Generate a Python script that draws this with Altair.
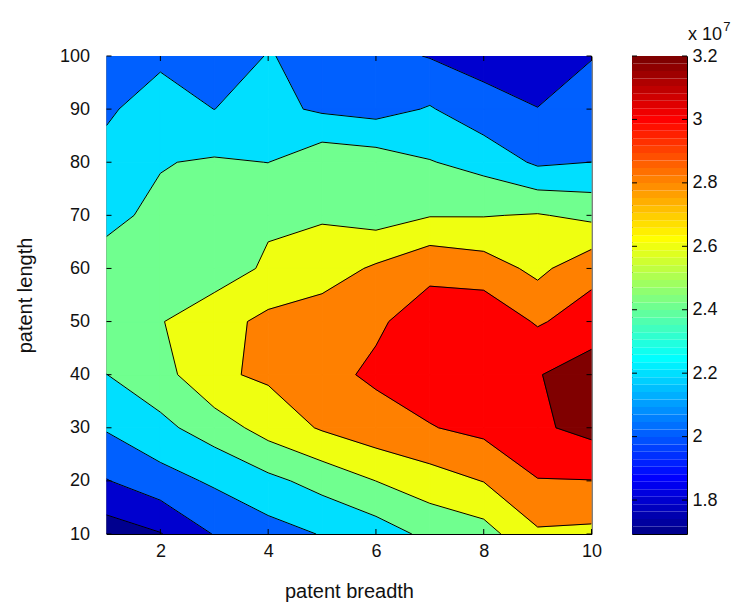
import numpy as np
import pandas as pd
import altair as alt

# ---------------- data (values in units of 1e7) ----------------
breadth = [1, 2, 3, 4, 5, 6, 7, 8, 9, 10]
length = [10, 20, 30, 40, 50, 60, 70, 80, 90, 100]
# one list per breadth value, ordered by patent length 10..100
z_b1 = [1.693, 1.991, 2.218, 2.398, 2.50, 2.46, 2.36, 2.24, 2.182, 2.13]
z_b2 = [1.79, 2.12, 2.35, 2.52, 2.59, 2.57, 2.438, 2.39, 2.26, 2.174]
z_b3 = [2.01, 2.23, 2.496, 2.77, 2.72, 2.50, 2.48, 2.422, 2.199, 2.14]
z_b4 = [2.12, 2.35, 2.68, 2.83, 2.85, 2.63, 2.57, 2.398, 2.256, 2.205]
z_b5 = [2.21, 2.47, 2.82, 2.95, 2.91, 2.70, 2.58, 2.54, 2.17, 2.17]
z_b6 = [2.30, 2.601, 2.923, 3.03, 2.975, 2.829, 2.511, 2.506, 2.128, 2.06]
z_b7 = [2.45, 2.71, 2.99, 3.10, 3.08, 2.96, 2.59, 2.41, 2.216, 1.99]
z_b8 = [2.52, 2.806, 3.052, 3.17, 3.145, 2.899, 2.591, 2.333, 2.072, 1.931]
z_b9 = [2.771, 2.991, 3.169, 3.19, 2.979, 2.749, 2.614, 2.167, 2.003, 1.92]
z_b10 = [2.754, 2.995, 3.26, 3.30, 3.09, 2.94, 2.55, 2.201, 2.10, 1.991]

levels = [1.8, 2.0, 2.2, 2.4, 2.6, 2.8, 3.0, 3.2]
x_ticks = [2, 4, 6, 8, 10]
y_ticks = [10, 20, 30, 40, 50, 60, 70, 80, 90, 100]
cbar_ticks = [1.8, 2.0, 2.2, 2.4, 2.6, 2.8, 3.0, 3.2]

Z = np.array([z_b1, z_b2, z_b3, z_b4, z_b5, z_b6, z_b7, z_b8, z_b9, z_b10])
X = np.array(breadth, float)
Y = np.array(length, float)

# ---------------- MATLAB jet(64) colormap ----------------
def jet(m=64):
    n = int(np.ceil(m / 4))
    u = np.concatenate([np.arange(1, n + 1) / n, np.ones(n - 1), np.arange(n, 0, -1) / n])
    g = int(np.ceil(n / 2)) - (1 if m % 4 == 1 else 0) + np.arange(1, len(u) + 1)
    r = g + n
    b = g - n
    J = np.zeros((m, 3))
    for arr, col in ((r, 0), (g, 1), (b, 2)):
        mask = (arr >= 1) & (arr <= m)
        J[arr[mask] - 1, col] = u[mask]
    return J

JET = jet(64)
def hexc(rgb):
    return "#%02x%02x%02x" % tuple(int(round(v * 255)) for v in rgb)

cmin = float(Z.min())
cmax = levels[-1]
def cmap(c):
    i = int(np.floor((c - cmin) / (cmax - cmin) * 64))
    return hexc(JET[min(max(i, 0), 63)])

lo_edges = [-np.inf] + levels
hi_edges = levels + [np.inf]
band_cdata = [cmin] + levels
band_names = ["b%d" % i for i in range(len(lo_edges))]
band_hex = [cmap(c) for c in band_cdata]

# ---------------- filled contour polygons + contour segments ----------------
def band_poly(pts, vals, lo, hi):
    out = []
    n = len(pts)
    for k in range(n):
        p, q = pts[k], pts[(k + 1) % n]
        a, b = vals[k], vals[(k + 1) % n]
        if lo <= a < hi:
            out.append(p)
        ts = []
        for L in (lo, hi):
            if np.isfinite(L) and (a - L) * (b - L) < 0:
                ts.append((L - a) / (b - a))
        for t in sorted(ts):
            out.append((p[0] + t * (q[0] - p[0]), p[1] + t * (q[1] - p[1])))
    return out

def crossings(pts, vals, L):
    out = []
    n = len(pts)
    for k in range(n):
        p, q = pts[k], pts[(k + 1) % n]
        a, b = vals[k], vals[(k + 1) % n]
        if (a - L) * (b - L) < 0:
            t = (L - a) / (b - a)
            out.append((p[0] + t * (q[0] - p[0]), p[1] + t * (q[1] - p[1])))
    return out

pieces = []
for i in range(len(X) - 1):
    for j in range(len(Y) - 1):
        pts = [(X[i], Y[j]), (X[i + 1], Y[j]), (X[i + 1], Y[j + 1]), (X[i], Y[j + 1])]
        vals = [Z[i, j], Z[i + 1, j], Z[i + 1, j + 1], Z[i, j + 1]]
        saddle = any(len(crossings(pts, vals, L)) > 2 for L in levels)
        if not saddle:
            pieces.append((pts, vals))
        else:
            c = ((X[i] + X[i + 1]) / 2, (Y[j] + Y[j + 1]) / 2)
            cv = float(np.mean(vals))
            for k in range(4):
                pieces.append(([pts[k], pts[(k + 1) % 4], c], [vals[k], vals[(k + 1) % 4], cv]))

poly_rows = []
seg_rows = []
pid = 0
for pts, vals in pieces:
    for bi, (lo, hi) in enumerate(zip(lo_edges, hi_edges)):
        poly = band_poly(pts, vals, lo, hi)
        if len(poly) >= 3:
            poly = poly + [poly[0]]
            for k, (px, py) in enumerate(poly):
                poly_rows.append({"x": px, "y": py, "pid": pid, "k": k, "band": band_names[bi]})
            pid += 1
    for L in levels:
        cr = crossings(pts, vals, L)
        if len(cr) == 2:
            seg_rows.append({"x": cr[0][0], "y": cr[0][1], "x2": cr[1][0], "y2": cr[1][1]})

poly_df = pd.DataFrame(poly_rows)
seg_df = pd.DataFrame(seg_rows)

# colorbar cells
cb_lo = [cmin + i * (cmax - cmin) / 64 for i in range(64)]
cb_hi = [cmin + (i + 1) * (cmax - cmin) / 64 for i in range(64)]
cb_df = pd.DataFrame({"lo": cb_lo, "hi": cb_hi, "hex": [hexc(c) for c in JET],
                      "c0": [0.0] * 64, "c1": [1.0] * 64})

xt_df = pd.DataFrame({"t": x_ticks})
yt_df = pd.DataFrame({"t": y_ticks})
ct_df = pd.DataFrame({"t": cbar_ticks})

# ---------------- chart ----------------
FONT = "Liberation Sans"
W, H = 485, 478
CBW = 55
TK = 5
xs = alt.Scale(domain=[1, 10], nice=False, zero=False)
ys = alt.Scale(domain=[10, 100], nice=False, zero=False)
band_scale = alt.Scale(domain=band_names, range=band_hex)

common_axis = dict(domain=False, grid=False, ticks=False, zindex=1,
                   labelFont=FONT, labelFontSize=18, labelColor="#111",
                   titleFont=FONT, titleFontSize=20, titleFontWeight="normal", titleColor="#111")

x_axis = alt.Axis(orient="bottom", values=x_ticks, format="d", title="patent breadth",
                  labelPadding=8, titlePadding=21, labelFlush=False, **common_axis)
y_axis = alt.Axis(orient="left", values=y_ticks, format="d", title="patent length",
                  labelPadding=17, titlePadding=24, labelFlush=False, **common_axis)

fills = alt.Chart(poly_df).mark_line(filled=True, strokeWidth=1, clip=True).encode(
    x=alt.X("x:Q", scale=xs, axis=x_axis),
    y=alt.Y("y:Q", scale=ys, axis=y_axis),
    detail="pid:N",
    order="k:Q",
    fill=alt.Fill("band:N", scale=band_scale, legend=None),
    stroke=alt.Stroke("band:N", scale=band_scale, legend=None),
)

lines = alt.Chart(seg_df).mark_rule(color="black", strokeWidth=1, clip=True).encode(
    x=alt.X("x:Q", scale=xs, axis=x_axis),
    y=alt.Y("y:Q", scale=ys, axis=y_axis),
    x2="x2:Q",
    y2="y2:Q",
)

tick_style = dict(color="black", strokeWidth=1)
xt_bottom = alt.Chart(xt_df).mark_rule(**tick_style).encode(
    x=alt.X("t:Q", scale=xs, axis=x_axis), y=alt.value(H), y2=alt.value(H - TK))
xt_top = alt.Chart(xt_df).mark_rule(**tick_style).encode(
    x=alt.X("t:Q", scale=xs, axis=x_axis), y=alt.value(0), y2=alt.value(TK))
yt_left = alt.Chart(yt_df).mark_rule(**tick_style).encode(
    y=alt.Y("t:Q", scale=ys, axis=y_axis), x=alt.value(0), x2=alt.value(TK))
yt_right = alt.Chart(yt_df).mark_rule(**tick_style).encode(
    y=alt.Y("t:Q", scale=ys, axis=y_axis), x=alt.value(W), x2=alt.value(W - TK))

main = alt.layer(fills, lines, xt_bottom, xt_top, yt_left, yt_right).properties(width=W, height=H)

cb_scale = alt.Scale(domain=[cmin, cmax], nice=False, zero=False)
cbx = alt.Scale(domain=[0, 1], nice=False, zero=False)
cb_axis = alt.Axis(orient="right", values=cbar_ticks, format=".1~f", title=None,
                   labelPadding=5, **common_axis)
cb_rects = alt.Chart(cb_df).mark_rect().encode(
    y=alt.Y("lo:Q", scale=cb_scale, axis=cb_axis),
    y2="hi:Q",
    x=alt.X("c0:Q", scale=cbx, axis=None),
    x2="c1:Q",
    color=alt.Color("hex:N", scale=None),
)
ct_left = alt.Chart(ct_df).mark_rule(**tick_style).encode(
    y=alt.Y("t:Q", scale=cb_scale, axis=cb_axis), x=alt.value(0), x2=alt.value(TK))
ct_right = alt.Chart(ct_df).mark_rule(**tick_style).encode(
    y=alt.Y("t:Q", scale=cb_scale, axis=cb_axis), x=alt.value(CBW), x2=alt.value(CBW - TK))

exp_df = pd.DataFrame({"t": ["x 10"], "px": [1.02]})
exp7_df = pd.DataFrame({"t": ["7"], "px": [1.66]})
exp_text = alt.Chart(exp_df).mark_text(align="left", baseline="alphabetic", font=FONT, fontSize=18,
                                       color="#111", clip=False).encode(
    x=alt.X("px:Q", scale=cbx, axis=None), y=alt.value(-16), text="t:N")
exp7_text = alt.Chart(exp7_df).mark_text(align="left", baseline="alphabetic", font=FONT, fontSize=13,
                                         color="#111", clip=False).encode(
    x=alt.X("px:Q", scale=cbx, axis=None), y=alt.value(-25), text="t:N")

cbar = alt.layer(cb_rects, ct_left, ct_right, exp_text, exp7_text).properties(width=CBW, height=H)

chart = alt.hconcat(main, cbar, spacing=28.5).properties(
    padding={"left": 14.5, "top": 20, "right": 5, "bottom": 5},
    background="white",
).configure_view(stroke="black", strokeWidth=1)

chart.save("out.html", embed_options={"renderer": "svg", "actions": False})
